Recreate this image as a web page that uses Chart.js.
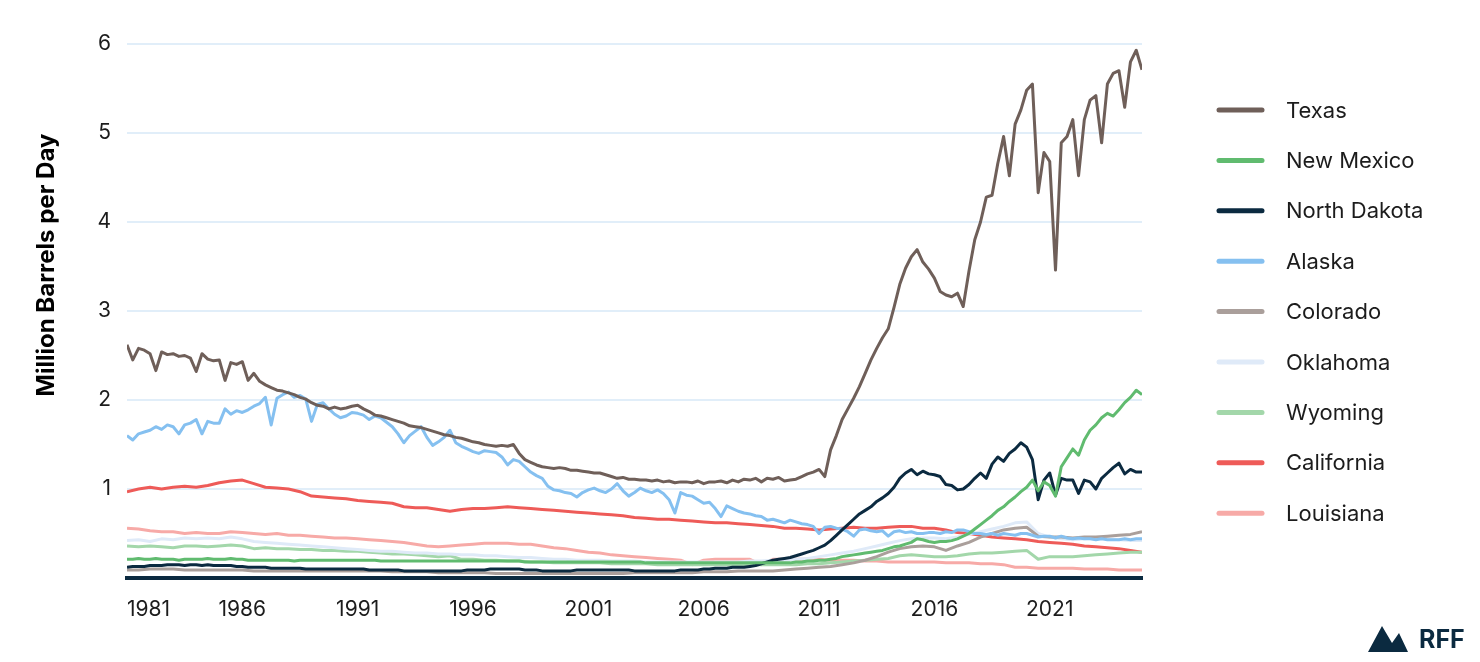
<!DOCTYPE html>
<html>
<head>
<meta charset="utf-8">
<script src="https://cdn.jsdelivr.net/npm/chart.js@4.4.1/dist/chart.umd.min.js"></script>
<style>
  html, body { margin: 0; padding: 0; background: #fff; }
  #wrap { width: 1480px; height: 662px; position: relative; }
</style>
</head>
<body>
<div id="wrap"><canvas id="chart" width="1480" height="662"></canvas></div>
<script>
// time axis: first sample is Jan 1981, quarterly or half-yearly steps
const START_YEAR = 1981;
const QUARTER = 0.25;
const HALF_YEAR = 0.5;
const xTickYears = [1981, 1986, 1991, 1996, 2001, 2006, 2011, 2016, 2021];
const yTickValues = [0, 1, 2, 3, 4, 5, 6];
const yTitle = "Million Barrels per Day";

// quarterly, million barrels per day (rows = 5 years)
const texas = [
  2.62, 2.45, 2.58, 2.56, 2.52, 2.33, 2.54, 2.51, 2.52, 2.49, 2.50, 2.47, 2.32, 2.52, 2.46, 2.44, 2.45, 2.22, 2.42, 2.40,
  2.43, 2.22, 2.30, 2.21, 2.17, 2.14, 2.11, 2.10, 2.08, 2.06, 2.03, 2.01, 1.97, 1.94, 1.93, 1.90, 1.92, 1.90, 1.91, 1.93,
  1.94, 1.90, 1.87, 1.83, 1.82, 1.80, 1.78, 1.76, 1.74, 1.71, 1.70, 1.69, 1.67, 1.65, 1.63, 1.61, 1.60, 1.58, 1.57, 1.55,
  1.53, 1.52, 1.50, 1.49, 1.48, 1.49, 1.48, 1.50, 1.40, 1.33, 1.30, 1.27, 1.25, 1.24, 1.23, 1.24, 1.23, 1.21, 1.21, 1.20,
  1.19, 1.18, 1.18, 1.16, 1.14, 1.12, 1.13, 1.11, 1.11, 1.10, 1.10, 1.09, 1.10, 1.08, 1.09, 1.07, 1.08, 1.08, 1.07, 1.09,
  1.06, 1.08, 1.08, 1.09, 1.07, 1.10, 1.08, 1.11, 1.10, 1.12, 1.08, 1.12, 1.11, 1.13, 1.09, 1.10, 1.11, 1.14, 1.17, 1.19,
  1.22, 1.14, 1.44, 1.60, 1.78, 1.90, 2.02, 2.15, 2.30, 2.45, 2.58, 2.70, 2.80, 3.04, 3.30, 3.48, 3.61, 3.69, 3.55, 3.47,
  3.37, 3.22, 3.18, 3.16, 3.20, 3.05, 3.45, 3.80, 4.00, 4.28, 4.30, 4.66, 4.96, 4.52, 5.10, 5.26, 5.48, 5.55, 4.33, 4.78,
  4.68, 3.46, 4.89, 4.96, 5.15, 4.52, 5.15, 5.37, 5.42, 4.89, 5.55, 5.67, 5.70, 5.29, 5.80, 5.93, 5.71
];
const newMexico = [
  0.21, 0.21, 0.22, 0.21, 0.21, 0.22, 0.21, 0.21, 0.21, 0.20, 0.21, 0.21, 0.21, 0.21, 0.22, 0.21, 0.21, 0.21, 0.22, 0.21,
  0.21, 0.20, 0.20, 0.20, 0.20, 0.20, 0.20, 0.20, 0.20, 0.19, 0.20, 0.20, 0.20, 0.20, 0.20, 0.20, 0.20, 0.20, 0.20, 0.20,
  0.20, 0.20, 0.20, 0.20, 0.19, 0.19, 0.19, 0.19, 0.19, 0.19, 0.19, 0.19, 0.19, 0.19, 0.19, 0.19, 0.19, 0.19, 0.19, 0.19,
  0.19, 0.19, 0.19, 0.19, 0.19, 0.19, 0.19, 0.19, 0.19, 0.18, 0.18, 0.18, 0.18, 0.18, 0.18, 0.18, 0.18, 0.18, 0.18, 0.18,
  0.18, 0.18, 0.18, 0.18, 0.18, 0.18, 0.18, 0.18, 0.18, 0.18, 0.17, 0.17, 0.17, 0.17, 0.17, 0.17, 0.17, 0.17, 0.17, 0.17,
  0.17, 0.17, 0.17, 0.17, 0.17, 0.17, 0.17, 0.17, 0.17, 0.17, 0.17, 0.17, 0.17, 0.17, 0.17, 0.17, 0.18, 0.18, 0.19, 0.19,
  0.20, 0.20, 0.21, 0.22, 0.24, 0.25, 0.26, 0.27, 0.28, 0.29, 0.30, 0.31, 0.33, 0.35, 0.36, 0.38, 0.40, 0.44, 0.43, 0.41,
  0.40, 0.41, 0.41, 0.42, 0.44, 0.47, 0.50, 0.55, 0.60, 0.65, 0.70, 0.76, 0.80, 0.86, 0.91, 0.97, 1.02, 1.10, 0.98, 1.08,
  1.04, 0.92, 1.25, 1.35, 1.45, 1.38, 1.55, 1.66, 1.72, 1.80, 1.85, 1.82, 1.89, 1.97, 2.03, 2.11, 2.06
];
const northDakota = [
  0.12, 0.13, 0.13, 0.13, 0.14, 0.14, 0.14, 0.15, 0.15, 0.15, 0.14, 0.15, 0.15, 0.14, 0.15, 0.14, 0.14, 0.14, 0.14, 0.13,
  0.13, 0.12, 0.12, 0.12, 0.12, 0.11, 0.11, 0.11, 0.11, 0.11, 0.11, 0.10, 0.10, 0.10, 0.10, 0.10, 0.10, 0.10, 0.10, 0.10,
  0.10, 0.10, 0.09, 0.09, 0.09, 0.09, 0.09, 0.09, 0.08, 0.08, 0.08, 0.08, 0.08, 0.08, 0.08, 0.08, 0.08, 0.08, 0.08, 0.09,
  0.09, 0.09, 0.09, 0.10, 0.10, 0.10, 0.10, 0.10, 0.10, 0.09, 0.09, 0.09, 0.08, 0.08, 0.08, 0.08, 0.08, 0.08, 0.09, 0.09,
  0.09, 0.09, 0.09, 0.09, 0.09, 0.09, 0.09, 0.09, 0.08, 0.08, 0.08, 0.08, 0.08, 0.08, 0.08, 0.08, 0.09, 0.09, 0.09, 0.09,
  0.10, 0.10, 0.11, 0.11, 0.11, 0.12, 0.12, 0.12, 0.13, 0.14, 0.16, 0.18, 0.20, 0.21, 0.22, 0.23, 0.25, 0.27, 0.29, 0.31,
  0.34, 0.37, 0.42, 0.48, 0.54, 0.60, 0.66, 0.72, 0.76, 0.80, 0.86, 0.90, 0.95, 1.02, 1.12, 1.18, 1.22, 1.16, 1.20, 1.17,
  1.16, 1.14, 1.05, 1.04, 0.99, 1.00, 1.05, 1.12, 1.18, 1.12, 1.28, 1.36, 1.31, 1.40, 1.45, 1.52, 1.47, 1.33, 0.88, 1.10,
  1.18, 0.93, 1.12, 1.10, 1.10, 0.95, 1.10, 1.08, 1.00, 1.12, 1.18, 1.24, 1.29, 1.17, 1.22, 1.19, 1.19
];
const alaska = [
  1.60, 1.55, 1.62, 1.64, 1.66, 1.70, 1.67, 1.72, 1.70, 1.62, 1.72, 1.74, 1.78, 1.62, 1.76, 1.74, 1.74, 1.90, 1.84, 1.88,
  1.86, 1.89, 1.93, 1.96, 2.03, 1.72, 2.02, 2.06, 2.09, 2.03, 2.05, 2.01, 1.76, 1.95, 1.97, 1.90, 1.84, 1.80, 1.82, 1.86,
  1.85, 1.83, 1.78, 1.82, 1.80, 1.75, 1.70, 1.62, 1.52, 1.60, 1.65, 1.70, 1.58, 1.49, 1.53, 1.58, 1.66, 1.52, 1.48, 1.45,
  1.42, 1.40, 1.43, 1.42, 1.41, 1.36, 1.27, 1.33, 1.31, 1.25, 1.19, 1.15, 1.12, 1.03, 0.99, 0.98, 0.96, 0.95, 0.91, 0.96,
  0.99, 1.01, 0.98, 0.96, 1.00, 1.06, 0.98, 0.92, 0.96, 1.01, 0.98, 0.96, 0.99, 0.95, 0.88, 0.73, 0.96, 0.93, 0.92, 0.88,
  0.84, 0.85, 0.78, 0.69, 0.81, 0.78, 0.75, 0.73, 0.72, 0.70, 0.69, 0.65, 0.66, 0.64, 0.62, 0.65, 0.63, 0.61, 0.60, 0.58,
  0.50, 0.57, 0.58, 0.56, 0.55, 0.52, 0.47, 0.54, 0.55, 0.53, 0.52, 0.53, 0.47, 0.52, 0.53, 0.51, 0.52, 0.50, 0.50, 0.51,
  0.51, 0.50, 0.52, 0.51, 0.54, 0.54, 0.52, 0.50, 0.50, 0.49, 0.50, 0.48, 0.50, 0.49, 0.48, 0.50, 0.50, 0.48, 0.46, 0.47,
  0.47, 0.45, 0.47, 0.45, 0.44, 0.45, 0.44, 0.44, 0.43, 0.44, 0.43, 0.43, 0.43, 0.44, 0.43, 0.44, 0.44
];

// half-yearly (rows = 5 years)
const colorado = [
  0.09, 0.09, 0.10, 0.10, 0.10, 0.09, 0.09, 0.09, 0.09, 0.09,
  0.09, 0.08, 0.08, 0.08, 0.08, 0.08, 0.08, 0.08, 0.08, 0.08,
  0.08, 0.08, 0.08, 0.07, 0.07, 0.07, 0.07, 0.06, 0.06, 0.06,
  0.06, 0.06, 0.05, 0.05, 0.05, 0.05, 0.05, 0.05, 0.05, 0.05,
  0.05, 0.05, 0.05, 0.05, 0.06, 0.06, 0.06, 0.06, 0.06, 0.06,
  0.07, 0.07, 0.07, 0.08, 0.08, 0.08, 0.08, 0.09, 0.10, 0.11,
  0.12, 0.13, 0.15, 0.17, 0.20, 0.24, 0.29, 0.33, 0.35, 0.36,
  0.35, 0.31, 0.36, 0.40, 0.46, 0.50, 0.54, 0.56, 0.57, 0.47,
  0.46, 0.46, 0.45, 0.46, 0.46, 0.47, 0.48, 0.49, 0.52
];
const oklahoma = [
  0.42, 0.43, 0.41, 0.44, 0.43, 0.45, 0.44, 0.45, 0.44, 0.46,
  0.44, 0.41, 0.40, 0.39, 0.38, 0.37, 0.36, 0.35, 0.34, 0.33,
  0.32, 0.31, 0.30, 0.30, 0.29, 0.28, 0.28, 0.27, 0.27, 0.26,
  0.26, 0.25, 0.25, 0.24, 0.23, 0.23, 0.22, 0.21, 0.21, 0.20,
  0.20, 0.20, 0.19, 0.19, 0.19, 0.18, 0.18, 0.18, 0.18, 0.18,
  0.18, 0.18, 0.18, 0.18, 0.19, 0.19, 0.20, 0.20, 0.21, 0.22,
  0.24, 0.26, 0.28, 0.30, 0.33, 0.36, 0.39, 0.42, 0.44, 0.45,
  0.45, 0.44, 0.46, 0.49, 0.52, 0.55, 0.58, 0.62, 0.63, 0.50,
  0.46, 0.44, 0.43, 0.44, 0.45, 0.44, 0.43, 0.42, 0.42
];
const wyoming = [
  0.36, 0.35, 0.36, 0.35, 0.34, 0.36, 0.36, 0.35, 0.36, 0.37,
  0.36, 0.33, 0.34, 0.33, 0.33, 0.32, 0.32, 0.31, 0.31, 0.30,
  0.30, 0.29, 0.28, 0.27, 0.27, 0.26, 0.25, 0.24, 0.25, 0.21,
  0.21, 0.20, 0.20, 0.19, 0.19, 0.18, 0.18, 0.17, 0.17, 0.17,
  0.17, 0.17, 0.16, 0.16, 0.16, 0.16, 0.15, 0.15, 0.15, 0.15,
  0.15, 0.15, 0.15, 0.15, 0.15, 0.15, 0.15, 0.15, 0.15, 0.16,
  0.16, 0.17, 0.18, 0.19, 0.20, 0.21, 0.22, 0.25, 0.26, 0.25,
  0.24, 0.24, 0.25, 0.27, 0.28, 0.28, 0.29, 0.30, 0.31, 0.21,
  0.24, 0.24, 0.24, 0.25, 0.26, 0.27, 0.28, 0.29, 0.29
];
const california = [
  0.97, 1.00, 1.02, 1.00, 1.02, 1.03, 1.02, 1.04, 1.07, 1.09,
  1.10, 1.06, 1.02, 1.01, 1.00, 0.97, 0.92, 0.91, 0.90, 0.89,
  0.87, 0.86, 0.85, 0.84, 0.80, 0.79, 0.79, 0.77, 0.75, 0.77,
  0.78, 0.78, 0.79, 0.80, 0.79, 0.78, 0.77, 0.76, 0.75, 0.74,
  0.73, 0.72, 0.71, 0.70, 0.68, 0.67, 0.66, 0.66, 0.65, 0.64,
  0.63, 0.62, 0.62, 0.61, 0.60, 0.59, 0.58, 0.56, 0.56, 0.55,
  0.54, 0.55, 0.56, 0.57, 0.56, 0.56, 0.57, 0.58, 0.58, 0.56,
  0.56, 0.54, 0.51, 0.50, 0.48, 0.46, 0.45, 0.44, 0.43, 0.41,
  0.40, 0.39, 0.38, 0.36, 0.35, 0.34, 0.33, 0.31, 0.29
];
const louisiana = [
  0.56, 0.55, 0.53, 0.52, 0.52, 0.50, 0.51, 0.50, 0.50, 0.52,
  0.51, 0.50, 0.49, 0.50, 0.48, 0.48, 0.47, 0.46, 0.45, 0.45,
  0.44, 0.43, 0.42, 0.41, 0.40, 0.38, 0.36, 0.35, 0.36, 0.37,
  0.38, 0.39, 0.39, 0.39, 0.38, 0.38, 0.36, 0.34, 0.33, 0.31,
  0.29, 0.28, 0.26, 0.25, 0.24, 0.23, 0.22, 0.21, 0.20, 0.15,
  0.20, 0.21, 0.21, 0.21, 0.21, 0.15, 0.21, 0.21, 0.21, 0.21,
  0.21, 0.20, 0.20, 0.20, 0.19, 0.19, 0.18, 0.18, 0.18, 0.18,
  0.18, 0.17, 0.17, 0.17, 0.16, 0.16, 0.15, 0.12, 0.12, 0.11,
  0.11, 0.11, 0.11, 0.10, 0.10, 0.10, 0.09, 0.09, 0.09
];

const series = [
  { label: "Texas", values: texas, step: QUARTER, color: "#6f5f59" },
  { label: "New Mexico", values: newMexico, step: QUARTER, color: "#60bb6f" },
  { label: "North Dakota", values: northDakota, step: QUARTER, color: "#0b2a40" },
  { label: "Alaska", values: alaska, step: QUARTER, color: "#85c0f0" },
  { label: "Colorado", values: colorado, step: HALF_YEAR, color: "#aa9f9b" },
  { label: "Oklahoma", values: oklahoma, step: HALF_YEAR, color: "#dfeaf8" },
  { label: "Wyoming", values: wyoming, step: HALF_YEAR, color: "#a3d7aa" },
  { label: "California", values: california, step: HALF_YEAR, color: "#ee5b58" },
  { label: "Louisiana", values: louisiana, step: HALF_YEAR, color: "#f7aaa7" },
];

const toPoints = (vals, step) => vals.map((v, i) => ({ x: START_YEAR + i * step, y: v }));

const TEXT = "#1c1c1c";
const FONT = "Inter, 'Noto Sans', sans-serif";

// legend, y title and logo drawn on top of the chart
const extras = {
  id: "extras",
  afterDraw(chart) {
    const ctx = chart.ctx;
    ctx.save();

    chart.data.datasets.forEach((ds, i) => {
      const y = 110 + i * 50.4;
      ctx.strokeStyle = ds.borderColor;
      ctx.lineWidth = 5;
      ctx.lineCap = "round";
      ctx.beginPath();
      ctx.moveTo(1219, y);
      ctx.lineTo(1262, y);
      ctx.stroke();
      ctx.fillStyle = TEXT;
      ctx.font = "22px " + FONT;
      ctx.textBaseline = "middle";
      ctx.textAlign = "left";
      ctx.fillText(ds.label, 1286, y + 1);
    });

    ctx.translate(47, 265);
    ctx.rotate(-Math.PI / 2);
    ctx.font = "bold 24px " + FONT;
    ctx.textAlign = "center";
    ctx.textBaseline = "middle";
    ctx.fillStyle = "#000";
    ctx.fillText(yTitle, 0, 0);
    ctx.restore();

    // RFF logo
    ctx.save();
    ctx.fillStyle = "#0b2a40";
    ctx.beginPath();
    ctx.moveTo(1368, 652);
    ctx.lineTo(1382, 626);
    ctx.lineTo(1392, 643);
    ctx.lineTo(1399, 633);
    ctx.lineTo(1408, 652);
    ctx.closePath();
    ctx.fill();
    ctx.font = "bold 25px " + FONT;
    ctx.textBaseline = "alphabetic";
    ctx.textAlign = "left";
    ctx.fillText("RFF", 1419, 648);
    ctx.restore();
  }
};

new Chart(document.getElementById("chart"), {
  type: "line",
  data: {
    datasets: series.map(s => ({
      label: s.label,
      data: toPoints(s.values, s.step),
      borderColor: s.color,
      backgroundColor: s.color,
      borderWidth: 3,
      pointRadius: 0,
      tension: 0,
      borderJoinStyle: "round",
      fill: false,
    })),
  },
  options: {
    responsive: false,
    animation: false,
    devicePixelRatio: 1,
    layout: { padding: { top: 44, right: 338, bottom: 0, left: 0 } },
    plugins: { legend: { display: false }, tooltip: { enabled: false } },
    scales: {
      x: {
        type: "linear",
        min: START_YEAR,
        max: 2025,
        afterBuildTicks: (s) => { s.ticks = xTickYears.concat([2025]).map(v => ({ value: v })); },
        afterFit: (s) => { s.height = 84; },
        ticks: {
          callback: (v) => (xTickYears.includes(v) ? String(v) : ""),
          align: "inner",
          padding: 19,
          maxRotation: 0,
          autoSkip: false,
          color: TEXT,
          font: { family: FONT, size: 21 },
        },
        grid: { display: false, drawTicks: false },
        border: { display: true, color: "#0b2a40", width: 4 },
      },
      y: {
        min: 0,
        max: 6,
        afterBuildTicks: (s) => { s.ticks = yTickValues.map(v => ({ value: v })); },
        afterFit: (s) => { s.width = 127; },
        ticks: {
          callback: (v) => (v === 0 ? "" : String(v)),
          padding: 16,
          color: TEXT,
          font: { family: FONT, size: 21 },
        },
        grid: {
          drawTicks: false,
          lineWidth: 2,
          color: (c) => (c.tick && c.tick.value === 0 ? "rgba(0,0,0,0)" : "#e1eef9"),
        },
        border: { display: false },
      },
    },
  },
  plugins: [extras],
});
</script>
</body>
</html>
